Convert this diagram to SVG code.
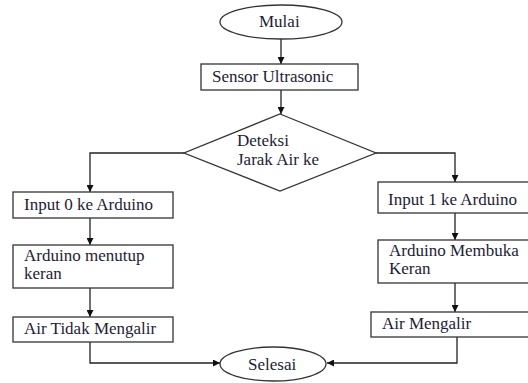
<svg xmlns="http://www.w3.org/2000/svg" width="528" height="383" viewBox="0 0 528 383">
<defs>
<marker id="arr" viewBox="0 0 10 10" refX="10" refY="5" markerWidth="7" markerHeight="7" markerUnits="userSpaceOnUse" orient="auto">
<path d="M0,0 L10,5 L0,10 Z" fill="#111"/>
</marker>
</defs>
<style>
.shape{fill:#fff;stroke:#333;stroke-width:1.3}
.c{fill:none;stroke:#222;stroke-width:1.3}
.t{font-size:17px;fill:#1c1c36}
</style>
<rect width="528" height="383" fill="#fff"/>
<g id="connectors">
<path class="c" d="M281 39 V64" marker-end="url(#arr)"/>
<path class="c" d="M281 90 V114" marker-end="url(#arr)"/>
<path class="c" d="M184 153 H90 V192" marker-end="url(#arr)"/>
<path class="c" d="M90 218 V245" marker-end="url(#arr)"/>
<path class="c" d="M90 288 V317" marker-end="url(#arr)"/>
<path class="c" d="M90 342 V363 H220" marker-end="url(#arr)"/>
<path class="c" d="M376 153 H455 V182" marker-end="url(#arr)"/>
<path class="c" d="M455 213 V240" marker-end="url(#arr)"/>
<path class="c" d="M455 283 V312" marker-end="url(#arr)"/>
<path class="c" d="M457 337 V363 H327" marker-end="url(#arr)"/>
</g>
<g id="mulai">
<ellipse class="shape" cx="281" cy="22" rx="61" ry="17"/>
<text class="t" font-family="Liberation Serif" x="259" y="27">Mulai</text>
</g>
<g id="sensor">
<rect class="shape" x="201" y="64" width="157" height="26"/>
<text class="t" font-family="Liberation Serif" x="212" y="82">Sensor Ultrasonic</text>
</g>
<g id="deteksi">
<polygon class="shape" points="280,114 376,153 280,191 184,153"/>
<text class="t" font-family="Liberation Serif" x="237" y="146">Deteksi</text>
<text class="t" font-family="Liberation Serif" x="237" y="165">Jarak Air ke</text>
</g>
<g id="input0">
<rect class="shape" x="13" y="192" width="160" height="26"/>
<text class="t" font-family="Liberation Serif" x="24" y="210">Input 0 ke Arduino</text>
</g>
<g id="menutup">
<rect class="shape" x="13" y="245" width="160" height="43"/>
<text class="t" font-family="Liberation Serif" x="24" y="261">Arduino menutup</text>
<text class="t" font-family="Liberation Serif" x="24" y="279">keran</text>
</g>
<g id="tidakmengalir">
<rect class="shape" x="13" y="317" width="160" height="25"/>
<text class="t" font-family="Liberation Serif" x="24" y="334">Air Tidak Mengalir</text>
</g>
<g id="input1">
<rect class="shape" x="378" y="182" width="152" height="31"/>
<text class="t" font-family="Liberation Serif" x="388" y="205">Input 1 ke Arduino</text>
</g>
<g id="membuka">
<rect class="shape" x="378" y="240" width="152" height="43"/>
<text class="t" font-family="Liberation Serif" x="389" y="256">Arduino Membuka</text>
<text class="t" font-family="Liberation Serif" x="389" y="274">Keran</text>
</g>
<g id="mengalir">
<rect class="shape" x="371" y="312" width="159" height="25"/>
<text class="t" font-family="Liberation Serif" x="382" y="329">Air Mengalir</text>
</g>
<g id="selesai">
<ellipse class="shape" cx="273" cy="364" rx="53" ry="17"/>
<text class="t" font-family="Liberation Serif" x="248" y="370">Selesai</text>
</g>
</svg>
